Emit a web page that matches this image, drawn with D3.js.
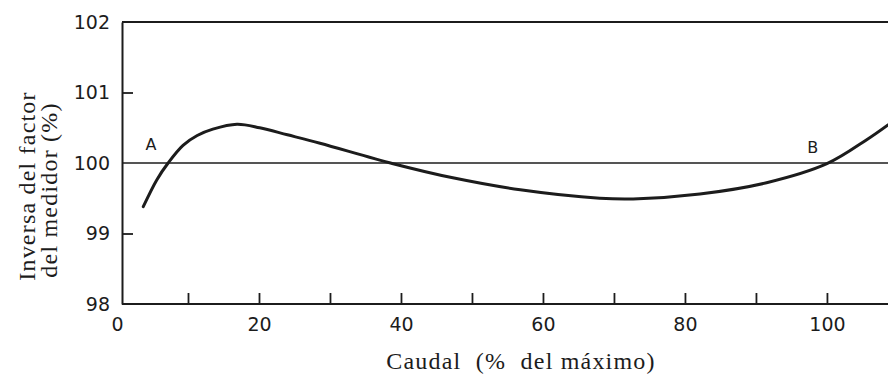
<!DOCTYPE html>
<html>
<head>
<meta charset="utf-8">
<script src="https://cdn.jsdelivr.net/npm/d3@7"></script>
<style>
  html, body { margin: 0; padding: 0; background: #fff; }
  .tick text { font-family: "DejaVu Sans", sans-serif; }
</style>
</head>
<body>
<div id="chart"></div>
<script>
// caudal (% del maximo) and inverse meter factor (%)
const caudal  = [3.7, 5.6, 7.2, 9.3, 11.3, 13.5, 16.9, 20.1, 24.0, 28.6, 38.9, 47.3, 56.8, 68.0, 72.7, 82.1, 91.5, 100.0, 105.6, 108.6]
const inversa = [99.38, 99.76, 100.0, 100.25, 100.39, 100.48, 100.55, 100.50, 100.40, 100.28, 99.99, 99.79, 99.62, 99.50, 99.49, 99.56, 99.72, 99.99, 100.33, 100.54]

const xTicks = [10, 20, 30, 40, 50, 60, 70, 80, 90, 100]
const xLabels = [0, 20, 40, 60, 80, 100]
const yLabels = [98, 99, 100, 101, 102]
const yTicks = [99, 101]
const yLines = [100, 102]

const marks = [{text: "A", x: 4.8, y: 100.18}, {text: "B", x: 98.0, y: 100.14}]

const W = 888, H = 374
const ink = "#1c1c1c"
const axisX = 122

const x = d3.scaleLinear().domain([0, 108.6]).range([117, 888])
const y = d3.scaleLinear().domain([98, 102]).range([304, 22])

const svg = d3.select("#chart").append("svg")
    .attr("width", W)
    .attr("height", H)

// frame lines: top (102) and the 100 reference line
svg.selectAll("line.hline")
    .data(yLines)
    .join("line")
    .attr("class", "hline")
    .attr("x1", axisX).attr("x2", W)
    .attr("y1", d => y(d)).attr("y2", d => y(d))
    .attr("stroke", ink)
    .attr("stroke-width", d => d === 100 ? 1.6 : 2)

// left axis labels
const yAxis = svg.append("g")
    .attr("transform", `translate(${axisX},0)`)
    .call(d3.axisLeft(y).tickValues(yLabels).tickSize(0).tickPadding(12).tickFormat(d3.format("d")))
yAxis.select(".domain").attr("stroke", ink).attr("stroke-width", 2)
yAxis.selectAll("text").attr("font-size", 19).attr("fill", ink)

// inner ticks on the left axis
const yIn = svg.append("g")
    .attr("transform", `translate(${axisX},0)`)
    .call(d3.axisRight(y).tickValues(yTicks).tickSize(11).tickFormat(""))
yIn.select(".domain").remove()
yIn.selectAll("line").attr("stroke", ink).attr("stroke-width", 1.8)

// bottom ticks pointing inward
const xIn = svg.append("g")
    .attr("transform", `translate(0,${y(98)})`)
    .call(d3.axisTop(x).tickValues(xTicks).tickSize(11).tickFormat(""))
xIn.select(".domain").remove()
xIn.selectAll("line").attr("stroke", ink).attr("stroke-width", 1.8)

// bottom labels
const xAxis = svg.append("g")
    .attr("transform", `translate(0,${y(98)})`)
    .call(d3.axisBottom(x).tickValues(xLabels).tickSize(0).tickPadding(14).tickFormat(d3.format("d")))
xAxis.select(".domain").remove()
xAxis.selectAll("text").attr("font-size", 19).attr("fill", ink)

svg.append("line")
    .attr("x1", axisX).attr("x2", W)
    .attr("y1", y(98)).attr("y2", y(98))
    .attr("stroke", ink).attr("stroke-width", 2)

// curve
const pts = caudal.map((c, i) => [c, inversa[i]])
svg.append("path")
    .datum(pts)
    .attr("fill", "none")
    .attr("stroke", ink)
    .attr("stroke-width", 3)
    .attr("stroke-linecap", "round")
    .attr("d", d3.line()
        .curve(d3.curveCatmullRom.alpha(0.5))
        .x(d => x(d[0]))
        .y(d => y(d[1])))

// point labels A and B
svg.selectAll("text.mark")
    .data(marks)
    .join("text")
    .attr("class", "mark")
    .attr("x", d => x(d.x))
    .attr("y", d => y(d.y))
    .attr("text-anchor", "middle")
    .attr("font-family", "DejaVu Sans, sans-serif")
    .attr("font-size", 16)
    .attr("fill", ink)
    .text(d => d.text)

// axis titles
svg.append("text")
    .attr("x", 521).attr("y", 369)
    .attr("text-anchor", "middle")
    .attr("font-family", "Liberation Serif, serif")
    .attr("font-size", 24)
    .attr("letter-spacing", 1.2)
    .attr("fill", ink)
    .attr("xml:space", "preserve")
    .text("Caudal  (%  del máximo)")

const yTitle = svg.append("text")
    .attr("transform", "translate(0,186) rotate(-90)")
    .attr("text-anchor", "middle")
    .attr("font-family", "Liberation Serif, serif")
    .attr("font-size", 24)
    .attr("letter-spacing", 1.2)
    .attr("fill", ink)
yTitle.append("tspan").attr("x", 0).attr("y", 35).text("Inversa del factor")
yTitle.append("tspan").attr("x", -4).attr("y", 57).text("del medidor (%)")
</script>
</body>
</html>
